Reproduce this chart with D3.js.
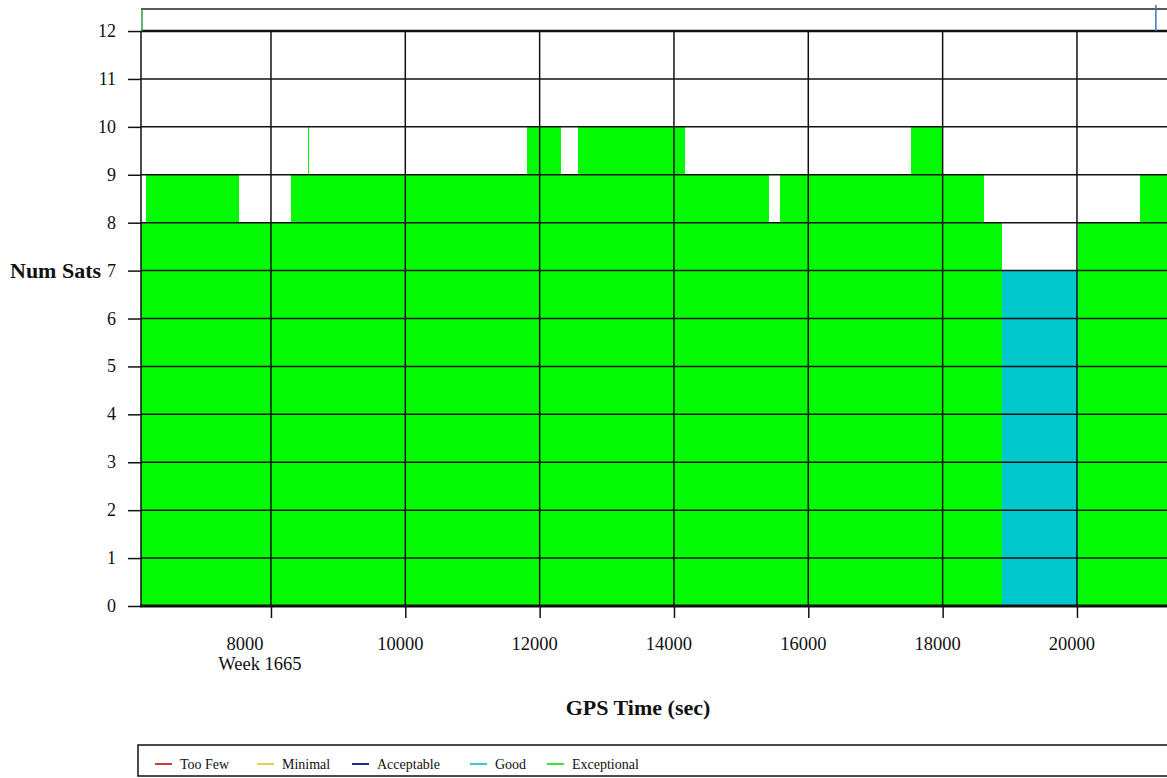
<!DOCTYPE html>
<html>
<head>
<meta charset="utf-8">
<script src="https://cdn.jsdelivr.net/npm/d3@7"></script>
<style>
  body { margin: 0; background: #fff; overflow: hidden; }
  text { font-family: "Liberation Serif", "Times New Roman", serif; fill: #111; }
</style>
</head>
<body>
<div id="chart"></div>
<script>
// step boundaries (GPS seconds) and number of satellites in each step
var stepTimes = [6065, 6140, 7520, 8300, 8545, 8560, 11810, 12320, 12570, 14160, 15410, 15580, 17530, 17990, 18610, 18880, 20010, 20940, 21400];
var numSats = [8, 9, 8, 9, 10, 9, 10, 9, 10, 9, 8, 9, 10, 9, 8, 7, 8, 9];
var xTicks = [8000, 10000, 12000, 14000, 16000, 18000, 20000];
var yTicks = [0, 1, 2, 3, 4, 5, 6, 7, 8, 9, 10, 11, 12];
var weekLabel = "Week 1665";
var categories = ["Too Few", "Minimal", "Acceptable", "Good", "Exceptional"];
var categoryColors = ["#d03838", "#e2d44a", "#23239a", "#3cc8cc", "#3ee03e"];
// short marks that go off the top of the scale
var offTopTimes = [6065, 21160];
var offTopColors = ["#2a9a4a", "#3a78b8"];

var svgWidth = 1167;
var svgHeight = 778;

var svg = d3.select("#chart")
  .append("svg")
  .attr("width", svgWidth)
  .attr("height", svgHeight);

var xScale = d3.scaleLinear()
  .domain([6065, 21400])
  .range([141, 1171]);

var yScale = d3.scaleLinear()
  .domain([0, 12.46])
  .range([606, 9]);

function fillColor(n) {
  if (n >= 8) return "#05fa05";
  if (n >= 7) return "#00c8cc";
  if (n >= 5) return "#23239a";
  if (n >= 4) return "#e2d44a";
  return "#d03838";
}

var segments = numSats.map(function(n, i) {
  return { t0: stepTimes[i], t1: stepTimes[i + 1], n: n };
});

// filled steps
svg.append("g")
  .attr("shape-rendering", "crispEdges")
  .selectAll("rect")
  .data(segments)
  .enter()
  .append("rect")
  .attr("x", d => Math.round(xScale(d.t0)))
  .attr("y", d => Math.round(yScale(d.n)))
  .attr("width", d => Math.max(1, Math.round(xScale(d.t1)) - Math.round(xScale(d.t0))))
  .attr("height", d => Math.round(yScale(0)) - Math.round(yScale(d.n)))
  .attr("fill", d => fillColor(d.n));

// grid
svg.append("g")
  .selectAll("line")
  .data(yTicks.slice(1))
  .enter()
  .append("line")
  .attr("x1", xScale.range()[0])
  .attr("x2", svgWidth)
  .attr("y1", d => yScale(d))
  .attr("y2", d => yScale(d))
  .attr("stroke", "#111")
  .attr("stroke-width", d => d === 12 ? 2.5 : 1.5);

svg.append("g")
  .selectAll("line")
  .data(xTicks)
  .enter()
  .append("line")
  .attr("x1", d => xScale(d))
  .attr("x2", d => xScale(d))
  .attr("y1", yScale(12))
  .attr("y2", yScale(0))
  .attr("stroke", "#111")
  .attr("stroke-width", 1.5);

// top frame
svg.append("line")
  .attr("x1", xScale.range()[0])
  .attr("x2", svgWidth)
  .attr("y1", yScale.range()[1])
  .attr("y2", yScale.range()[1])
  .attr("stroke", "#222")
  .attr("stroke-width", 1.5);

svg.append("g")
  .selectAll("line")
  .data(offTopTimes)
  .enter()
  .append("line")
  .attr("x1", d => xScale(d) + 1)
  .attr("x2", d => xScale(d) + 1)
  .attr("y1", (d, i) => i === 0 ? yScale.range()[1] : 5)
  .attr("y2", yScale(12))
  .attr("stroke", (d, i) => offTopColors[i])
  .attr("stroke-width", 1.5);

// axes
var bottomAxis = d3.axisBottom(xScale)
  .tickValues(xTicks)
  .tickSize(12)
  .tickFormat("");

var leftAxis = d3.axisLeft(yScale)
  .tickValues(yTicks)
  .tickSize(13)
  .tickFormat("");

svg.append("g")
  .attr("transform", `translate(0, ${yScale(0)})`)
  .call(bottomAxis)
  .call(g => g.select(".domain").remove())
  .selectAll("line")
  .attr("stroke", "#111")
  .attr("stroke-width", 1.5);

svg.append("g")
  .attr("transform", `translate(${xScale.range()[0]}, 0)`)
  .call(leftAxis)
  .call(g => g.select(".domain").remove())
  .selectAll("line")
  .attr("stroke", "#111")
  .attr("stroke-width", 1.5);

svg.append("line")
  .attr("x1", xScale.range()[0])
  .attr("x2", xScale.range()[0])
  .attr("y1", yScale(12))
  .attr("y2", yScale(0))
  .attr("stroke", "#111")
  .attr("stroke-width", 1.5);

svg.append("line")
  .attr("x1", xScale.range()[0] - 1)
  .attr("x2", svgWidth)
  .attr("y1", yScale(0))
  .attr("y2", yScale(0))
  .attr("stroke", "#111")
  .attr("stroke-width", 3);

// tick labels
svg.append("g")
  .selectAll("text")
  .data(yTicks)
  .enter()
  .append("text")
  .attr("x", 116)
  .attr("y", d => yScale(d) + 6)
  .attr("text-anchor", "end")
  .attr("font-size", "18px")
  .text(d => d);

svg.append("g")
  .selectAll("text")
  .data(xTicks)
  .enter()
  .append("text")
  .attr("x", (d, i) => xScale(d) + (i === 0 ? -26 : -5))
  .attr("y", 650)
  .attr("text-anchor", "middle")
  .attr("font-size", "18.5px")
  .text(d => d);

svg.append("text")
  .attr("x", xScale(xTicks[0]) - 11)
  .attr("y", 670)
  .attr("text-anchor", "middle")
  .attr("font-size", "18.5px")
  .text(weekLabel);

// axis titles
svg.append("text")
  .attr("x", 10)
  .attr("y", yScale(7) + 7)
  .attr("font-size", "22px")
  .attr("font-weight", "bold")
  .text("Num Sats");

svg.append("text")
  .attr("x", 638)
  .attr("y", 715)
  .attr("text-anchor", "middle")
  .attr("font-size", "22px")
  .attr("font-weight", "bold")
  .text("GPS Time (sec)");

// legend
var legend = svg.append("g");

legend.append("rect")
  .attr("x", 138)
  .attr("y", 745)
  .attr("width", 1040)
  .attr("height", 31)
  .attr("fill", "#fff")
  .attr("stroke", "#111")
  .attr("stroke-width", 1.5);

var legendX = [155, 257, 352, 470, 547];

var items = legend.selectAll(".item")
  .data(categories)
  .enter()
  .append("g")
  .attr("transform", (d, i) => `translate(${legendX[i]}, 764)`);

items.append("line")
  .attr("x1", 0)
  .attr("x2", 17)
  .attr("stroke", (d, i) => categoryColors[i])
  .attr("stroke-width", 2);

items.append("text")
  .attr("x", 25)
  .attr("y", 5)
  .attr("font-size", "14px")
  .text(d => d);
</script>
</body>
</html>
